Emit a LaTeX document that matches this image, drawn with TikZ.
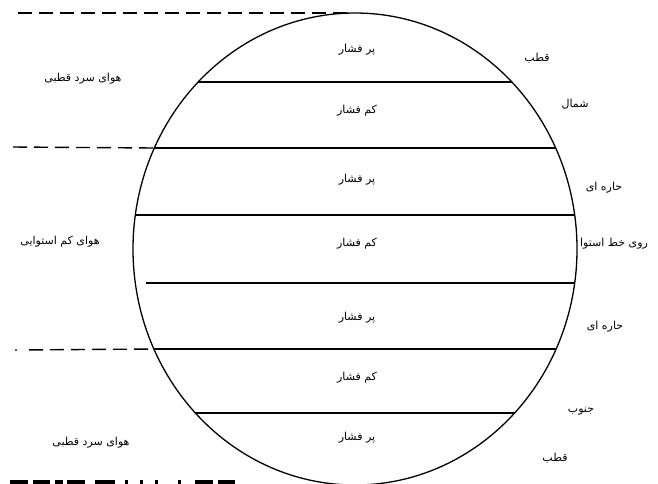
\documentclass[tikz,border=0pt]{standalone}
\usepackage{fontspec}
\setmainfont{Liberation Sans}
\newfontfamily\arabicfont[Script=Arabic]{DejaVu Sans}
\TeXXeTstate=1
\begin{document}
\begin{tikzpicture}[x=1pt,y=-1pt,
  lbl/.style={font=\arabicfont\fontsize{11}{13}\selectfont, inner sep=1pt},
  band/.style={line width=1.4pt},
  dashline/.style={line width=1.4pt, dash pattern=on 14pt off 7pt},
  globe/.style={line width=1.3pt}]
\useasboundingbox (0,0) rectangle (658,483);
\clip (0,0) rectangle (658,483);
\fill[white] (0,0) rectangle (658,483);
% globe
\draw[globe] (355,249) ellipse [x radius=222, y radius=236];
% band lines
\coordinate (a1) at (198.1,82);  \coordinate (b1) at (511.9,82);
\coordinate (a2) at (154.4,148); \coordinate (b2) at (555.6,148);
\coordinate (a3) at (135.3,215); \coordinate (b3) at (574.7,215);
\coordinate (a4) at (146,283);   \coordinate (b4) at (574.7,283);
\coordinate (a5) at (153.9,349); \coordinate (b5) at (556.1,349);
\coordinate (a6) at (195.4,413); \coordinate (b6) at (514.6,413);
\foreach \i in {1,...,6} \draw[band] (a\i) -- (b\i);
% dashed lines
\coordinate (top) at (348,13);
\coordinate (d0) at (18,13);
\draw[dashline] (d0) -- (top);
\coordinate (d2) at (13,147);
\draw[dashline] (d2) -- (a2);
\coordinate (d5) at (15,350);
\draw[dashline, dash pattern=on 2pt off 12pt on 14pt off 7pt on 14pt off 7pt on 14pt off 7pt on 14pt off 7pt on 14pt off 7pt on 14pt off 7pt] (d5) -- (a5);
\coordinate (d7) at (10,482);
\coordinate (d8) at (235,482);
\draw[line width=4pt, dash pattern=on 18pt off 5pt on 17pt off 5pt on 8pt off 4pt on 18pt off 10pt on 20pt off 10pt on 3pt off 12pt on 3pt off 12pt on 3pt off 20pt on 3pt off 14pt] (d7) -- (d8);
% inner labels
\node[lbl] (p1) at (357,50)  {\beginR پر فشار\endR};
\node[lbl] (k1) at (357,111) {\beginR کم فشار\endR};
\node[lbl] (p2) at (357,180) {\beginR پر فشار\endR};
\node[lbl] (k2) at (357,244) {\beginR کم فشار\endR};
\node[lbl] (p3) at (357,318) {\beginR پر فشار\endR};
\node[lbl] (k3) at (357,378) {\beginR کم فشار\endR};
\node[lbl] (p4) at (357,438) {\beginR پر فشار\endR};
% right labels
\node[lbl] (r1) at (537,58)  {\beginR قطب\endR};
\node[lbl] (r2) at (575,104) {\beginR شمال\endR};
\node[lbl] (r3) at (604,188) {\beginR حاره ای\endR};
\node[lbl] (r4) at (614,244) {\beginR روی خط استوا\endR};
\node[lbl] (r5) at (605,327) {\beginR حاره ای\endR};
\node[lbl] (r6) at (581,411) {\beginR جنوب\endR};
\node[lbl] (r7) at (555,458) {\beginR قطب\endR};
% left labels
\node[lbl] (l1) at (83,79)   {\beginR هوای سرد قطبی\endR};
\node[lbl] (l2) at (60,242)  {\beginR هوای کم استوایی\endR};
\node[lbl] (l3) at (91,443)  {\beginR هوای سرد قطبی\endR};
\end{tikzpicture}
\end{document}
